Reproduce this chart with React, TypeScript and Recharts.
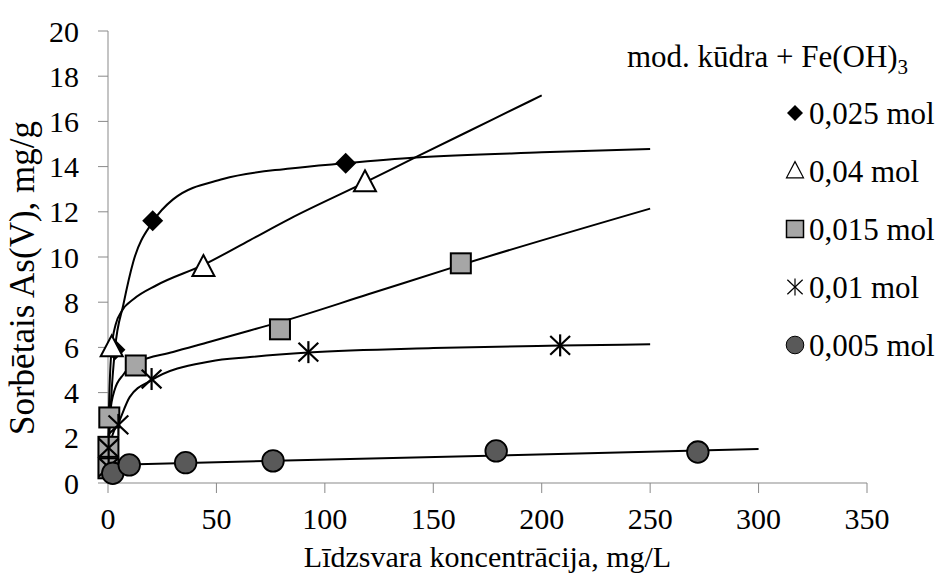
import React from 'react';
import { ScatterChart, Scatter, XAxis, YAxis, Legend, Label } from 'recharts';

const FONT = "'Liberation Serif', Tinos, 'Times New Roman', serif";

const xTicks = [0, 50, 100, 150, 200, 250, 300, 350];
const yTicks = [0, 2, 4, 6, 8, 10, 12, 14, 16, 18, 20];

const legendTitle = 'mod. kūdra + Fe(OH)';
const legendLabels = ['0,025 mol', '0,04 mol', '0,015 mol', '0,01 mol', '0,005 mol'];
const xTitle = 'Līdzsvara koncentrācija, mg/L';
const yTitle = 'Sorbētais As(V), mg/g';

// measured points
const pts025 = [
  { x: 3.2, y: 5.9 },
  { x: 20.6, y: 11.6 },
  { x: 109.6, y: 14.15 },
];
const pts04 = [
  { x: 1.7, y: 6.0 },
  { x: 44, y: 9.55 },
  { x: 118.5, y: 13.3 },
];
const pts015 = [
  { x: 0.2, y: 0.65 },
  { x: 0.2, y: 1.6 },
  { x: 0.6, y: 2.9 },
  { x: 12.8, y: 5.2 },
  { x: 79.3, y: 6.8 },
  { x: 162.7, y: 9.72 },
];
const pts01 = [
  { x: 0.3, y: 0.7 },
  { x: 0.3, y: 1.55 },
  { x: 4.8, y: 2.57 },
  { x: 20.1, y: 4.6 },
  { x: 92.4, y: 5.79 },
  { x: 208.5, y: 6.09 },
];
const pts005 = [
  { x: 2.2, y: 0.43 },
  { x: 9.8, y: 0.8 },
  { x: 35.8, y: 0.9 },
  { x: 76.1, y: 0.98 },
  { x: 179, y: 1.42 },
  { x: 272, y: 1.37 },
];

// trend lines
const trend025 = [
  { x: 0, y: 0.3 }, { x: 0.5, y: 1.8 }, { x: 1.5, y: 3.8 }, { x: 3.2, y: 5.9 },
  { x: 7.1, y: 7.9 }, { x: 11.7, y: 9.8 }, { x: 20.6, y: 11.55 }, { x: 30, y: 12.55 },
  { x: 53, y: 13.45 }, { x: 84, y: 13.92 }, { x: 109.6, y: 14.15 }, { x: 142, y: 14.4 },
  { x: 200, y: 14.63 }, { x: 250, y: 14.78 },
];
const trend04 = [
  { x: 0, y: 1.2 }, { x: 0.5, y: 3.5 }, { x: 1.7, y: 6.0 }, { x: 3.5, y: 7.0 },
  { x: 6.3, y: 7.6 }, { x: 12, y: 8.15 }, { x: 22.4, y: 8.75 }, { x: 44, y: 9.65 },
  { x: 65.5, y: 10.75 }, { x: 84, y: 11.7 }, { x: 118.5, y: 13.3 }, { x: 142.4, y: 14.44 },
  { x: 177.7, y: 16.1 }, { x: 200, y: 17.15 },
];
const trend015 = [
  { x: 0, y: 0.6 }, { x: 0.3, y: 1.8 }, { x: 1, y: 3.1 }, { x: 3, y: 4.1 },
  { x: 7.1, y: 4.8 }, { x: 12.8, y: 5.3 }, { x: 30, y: 5.8 }, { x: 47, y: 6.25 },
  { x: 65.5, y: 6.75 }, { x: 79.3, y: 7.12 }, { x: 120, y: 8.35 }, { x: 162.7, y: 9.65 },
  { x: 250, y: 12.14 },
];
const trend01 = [
  { x: 0, y: 0.5 }, { x: 0.5, y: 1.4 }, { x: 2, y: 2.1 }, { x: 4.8, y: 2.65 },
  { x: 10, y: 3.8 }, { x: 20.1, y: 4.55 }, { x: 47, y: 5.38 }, { x: 65.5, y: 5.57 },
  { x: 92.4, y: 5.77 }, { x: 150, y: 5.97 }, { x: 208.5, y: 6.08 }, { x: 250, y: 6.14 },
];
const trend005 = [
  { x: 0, y: 0.8 }, { x: 300, y: 1.5 },
];

const Diamond = ({ cx, cy, s = 10.5 }: any) => (
  <polygon points={`${cx},${cy - s} ${cx + s},${cy} ${cx},${cy + s} ${cx - s},${cy}`} fill="#000" />
);
const Triangle = ({ cx, cy, s = 11, sw = 2 }: any) => (
  <polygon
    points={`${cx},${cy - s * 1.1} ${cx + s},${cy + s * 0.8} ${cx - s},${cy + s * 0.8}`}
    fill="#fff" stroke="#000" strokeWidth={sw} strokeLinejoin="miter"
  />
);
const Square = ({ cx, cy, s = 10, sw = 2 }: any) => (
  <rect x={cx - s} y={cy - s} width={2 * s} height={2 * s} fill="#a6a6a6" stroke="#000" strokeWidth={sw} />
);
const Star = ({ cx, cy, s = 11, sw = 2.2 }: any) => (
  <g stroke="#000" strokeWidth={sw}>
    <line x1={cx} y1={cy - s} x2={cx} y2={cy + s} />
    <line x1={cx - s * 0.9} y1={cy - s * 0.85} x2={cx + s * 0.9} y2={cy + s * 0.85} />
    <line x1={cx - s * 0.9} y1={cy + s * 0.85} x2={cx + s * 0.9} y2={cy - s * 0.85} />
  </g>
);
const Circle = ({ cx, cy, s = 10.8, sw = 1.8 }: any) => (
  <circle cx={cx} cy={cy} r={s} fill="#595959" stroke="#000" strokeWidth={sw} />
);
const NoShape = () => <g />;

const markerKinds = [Diamond, Triangle, Square, Star, Circle];
const legendSizes = [
  { s: 8, sw: 0 },
  { s: 8.5, sw: 1.2 },
  { s: 8.5, sw: 1.5 },
  { s: 8.5, sw: 1.2 },
  { s: 8.8, sw: 1 },
];

const txt = { fontFamily: FONT, fill: '#000' };

const renderLegend = () => (
  <svg width={342} height={340} style={{ display: 'block', overflow: 'visible' }}>
    <text x={27} y={37} style={{ ...txt, fontSize: 31 }}>
      {legendTitle}
      <tspan dy={7} style={{ fontSize: 21 }}>3</tspan>
    </text>
    {legendLabels.map((lab, i) => {
      const cy = 83 + i * 58;
      const M = markerKinds[i];
      return (
        <g key={lab}>
          <M cx={195} cy={cy} s={legendSizes[i].s} sw={legendSizes[i].sw} />
          <text x={209} y={cy + 11} style={{ ...txt, fontSize: 31 }}>{lab}</text>
        </g>
      );
    })}
  </svg>
);

const trends = [trend025, trend04, trend015, trend01, trend005];
const series = [pts025, pts04, pts015, pts01, pts005];

export default function App() {
  return (
    <div style={{ position: 'absolute', left: 0, top: 0, width: 942, height: 581, background: '#fff', fontFamily: FONT }}>
      <ScatterChart width={942} height={581} margin={{ top: 31, right: 75, bottom: 0, left: 0 }} style={{ fontFamily: FONT }}>
        <XAxis
          type="number"
          dataKey="x"
          domain={[0, 350]}
          ticks={xTicks}
          height={98}
          tickSize={10}
          tickMargin={15}
          axisLine={{ stroke: '#898989' }}
          tickLine={{ stroke: '#898989' }}
          tick={{ fill: '#000', fontSize: 30, fontFamily: FONT, style: { fontFamily: FONT } }}
          interval={0}
        >
          <Label
            content={() => (
              <text x={487.5} y={567} textAnchor="middle" style={{ ...txt, fontSize: 30 }}>{xTitle}</text>
            )}
          />
        </XAxis>
        <YAxis
          type="number"
          dataKey="y"
          domain={[0, 20]}
          ticks={yTicks}
          width={108}
          tickSize={10}
          tickMargin={19}
          axisLine={{ stroke: '#898989' }}
          tickLine={{ stroke: '#898989' }}
          tick={{ fill: '#000', fontSize: 30, fontFamily: FONT, style: { fontFamily: FONT } }}
          interval={0}
        >
          <Label
            content={() => (
              <text
                x={34}
                y={278}
                textAnchor="middle"
                transform="rotate(-90 34 278)"
                style={{ ...txt, fontSize: 35 }}
              >
                {yTitle}
              </text>
            )}
          />
        </YAxis>
        {trends.map((t, i) => (
          <Scatter
            key={'t' + i}
            data={t}
            fill="#000"
            line={{ stroke: '#000', strokeWidth: 2 }}
            lineJointType="monotoneX"
            shape={NoShape}
            isAnimationActive={false}
            legendType="none"
          />
        ))}
        {series.map((d, i) => {
          const M = markerKinds[i];
          return (
            <Scatter
              key={'s' + i}
              data={d}
              fill="#000"
              shape={(p: any) => <M cx={p.cx} cy={p.cy} />}
              isAnimationActive={false}
            />
          );
        })}
        <Legend
          layout="vertical"
          align="center"
          verticalAlign="middle"
          wrapperStyle={{ left: 600, top: 30, width: 342, height: 340 }}
          content={renderLegend}
        />
      </ScatterChart>
    </div>
  );
}
